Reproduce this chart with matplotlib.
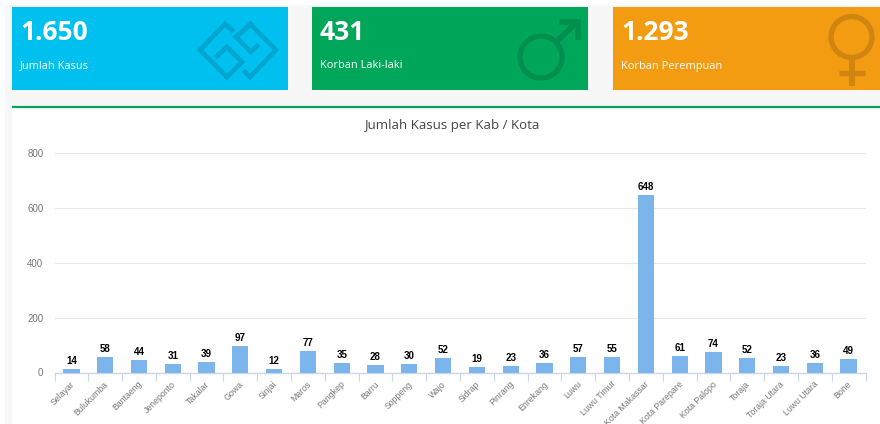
import matplotlib
matplotlib.use('Agg')
import numpy as np
import matplotlib.pyplot as plt
from matplotlib.patches import Rectangle, Circle

W, H = 880, 424

# Chart data
kab_kota = ['Selayar', 'Bulukumba', 'Bantaeng', 'Jeneponto', 'Takalar', 'Gowa',
            'Sinjai', 'Maros', 'Pangkep', 'Barru', 'Soppeng', 'Wajo', 'Sidrap',
            'Pinrang', 'Enrekang', 'Luwu', 'Luwu Timur', 'Kota Makassar',
            'Kota Parepare', 'Kota Palopo', 'Toraja', 'Toraja Utara',
            'Luwu Utara', 'Bone']
jumlah = [14, 58, 44, 31, 39, 97, 12, 77, 35, 28, 30, 52, 19, 23, 36, 57, 55,
          648, 61, 74, 52, 23, 36, 49]
y_ticks = [0, 200, 400, 600, 800]

# Cards along the top
card_values = ['1.650', '431', '1.293']
card_labels = ['Jumlah Kasus', 'Korban Laki-laki', 'Korban Perempuan']
card_colors = ['#00c0ef', '#00a65a', '#f39c12']
card_icon_colors = ['#00a6d0', '#008f4e', '#cf850f']
card_x = [(12, 287.5), (312, 588), (613, 885)]

fig = plt.figure(figsize=(W / 100, H / 100), dpi=100, facecolor='white')

# Background layer in pixel coordinates
bg = fig.add_axes([0, 0, 1, 1])
bg.set_xlim(0, W)
bg.set_ylim(H, 0)
bg.axis('off')

bg.add_patch(Rectangle((5, 5), W, H, color='#f7f7f7', lw=0))
bg.add_patch(Rectangle((12, 107), W, H, color='white', lw=0))
bg.plot([12, W], [107, 107], color='#00a65a', lw=1.6, solid_capstyle='butt')

for i in range(3):
    x0, x1 = card_x[i]
    bg.add_patch(Rectangle((x0, 7), x1 - x0, 83, color=card_colors[i], lw=0))
    bg.text(x0 + 8, 33, card_values[i], color='white', fontsize=19,
            fontweight='bold', family='Open Sans', va='center', ha='left')
    bg.text(x0 + 8, 66, card_labels[i], color='white', fontsize=7.9,
            family='Open Sans', va='center', ha='left')

# Logo icon of the first card
lw_icon = 3.4
c = card_icon_colors[0]
bg.plot([232, 225, 200, 227, 242, 227, 217], [30, 24, 50, 77, 62, 47, 56], color=c,
        lw=lw_icon, solid_joinstyle='miter')
bg.plot([245, 250, 276, 250, 245], [29, 24, 50, 77, 72], color=c, lw=lw_icon,
        solid_joinstyle='miter')
bg.plot([257, 251, 236, 251], [46, 52, 37, 24], color=c, lw=lw_icon,
        solid_joinstyle='miter')

# Male icon
c = card_icon_colors[1]
bg.add_patch(Circle((541, 57), 21, fill=False, ec=c, lw=3.8))
bg.plot([556, 578], [42, 21], color=c, lw=4.0, solid_capstyle='butt')
bg.plot([559, 577.5, 577.5], [21.5, 21.5, 40], color=c, lw=4.0, solid_joinstyle='miter',
        solid_capstyle='butt')

# Female icon
c = card_icon_colors[2]
bg.add_patch(Circle((851.5, 37), 20.5, fill=False, ec=c, lw=3.8))
bg.plot([851.5, 851.5], [58, 86], color=c, lw=4.2, solid_capstyle='butt')
bg.plot([839, 865], [73, 73], color=c, lw=3.8, solid_capstyle='butt')

# Bar chart
left, right, top, bottom = 54.5, 865.5, 153, 372.5
ax = fig.add_axes([left / W, 1 - bottom / H, (right - left) / W, (bottom - top) / H])
ax.patch.set_alpha(0)

pos = np.arange(len(kab_kota))
bars = ax.bar(pos, jumlah, width=0.48, color='#7cb5ec', zorder=3)
ax.bar_label(bars, padding=2.2, fontsize=7, fontweight='bold', color='black',
             family='Liberation Sans')

ax.set_xlim(-0.5, len(kab_kota) - 0.5)
ax.set_ylim(0, 800)
ax.set_yticks(y_ticks)
ax.set_yticklabels([str(t) for t in y_ticks], family='Liberation Sans', fontsize=7,
                   color='#777777')
ax.tick_params(axis='y', length=0, pad=8)
ax.grid(axis='y', color='#e6e6e6', lw=0.8, zorder=0)

# Ticks sit on the category boundaries, labels at the centres
ax.set_xticks(np.append(pos - 0.5, len(kab_kota) - 0.5))
ax.set_xticklabels([])
ax.tick_params(axis='x', length=5.5, width=0.8, color='#ccd6eb')
for p, name in zip(pos, kab_kota):
    ax.annotate(name, (p, 0), xytext=(-1, -5), textcoords='offset points',
                xycoords='data', rotation=45, ha='right', va='top',
                rotation_mode='anchor', fontsize=6.3, color='#777777',
                family='Liberation Sans', annotation_clip=False)

for s in ['top', 'left', 'right']:
    ax.spines[s].set_visible(False)
ax.spines['bottom'].set_color('#ccd6eb')
ax.spines['bottom'].set_linewidth(1.0)

fig.text(364 / W, 1 - 125 / H, 'Jumlah Kasus per Kab / Kota',
         fontsize=9.5, color='#444444', family='Open Sans', ha='left', va='center')

plt.savefig('out.png', dpi=100)
plt.close()
